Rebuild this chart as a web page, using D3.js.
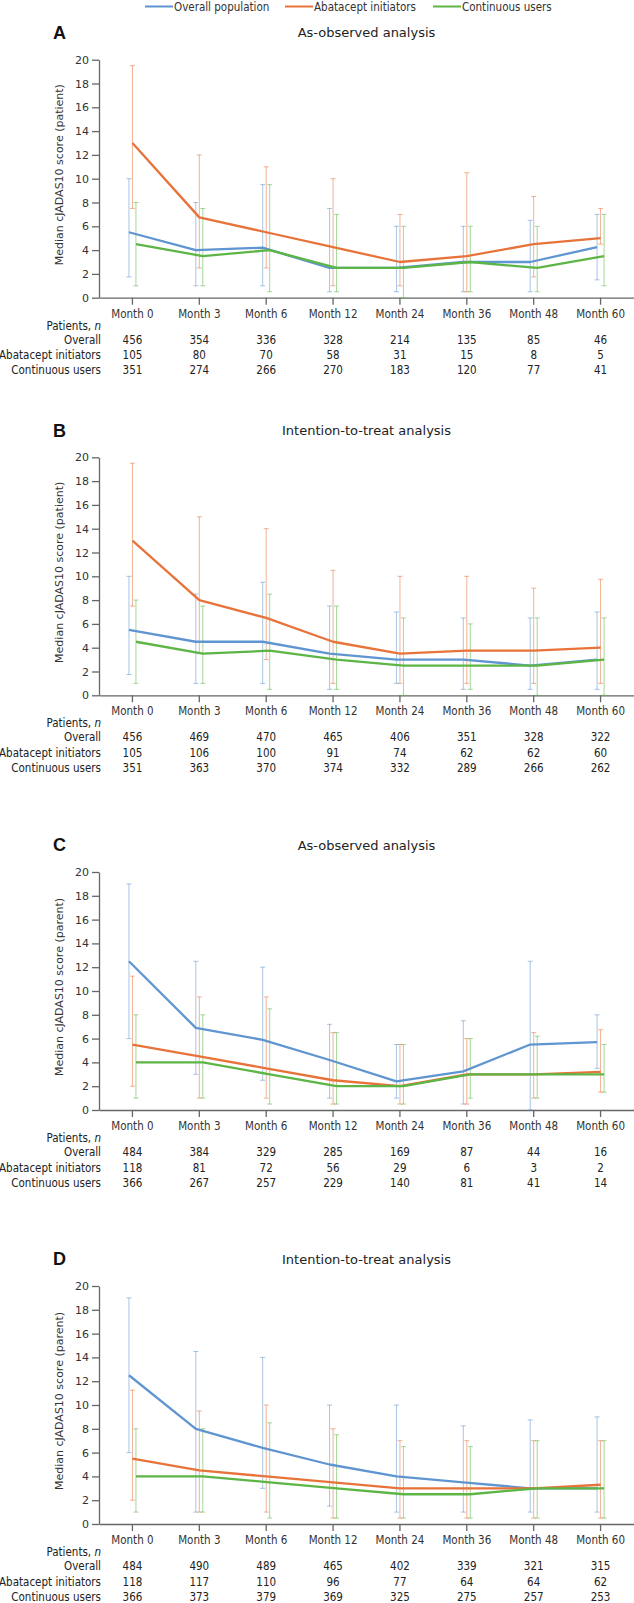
<!DOCTYPE html>
<html><head><meta charset="utf-8">
<script src="https://cdn.jsdelivr.net/npm/d3@7"></script>
<style>
body{margin:0;background:#fff;}
svg{display:block;}
.cond{font-family:"DejaVu Sans Condensed","DejaVu Sans",sans-serif;font-stretch:condensed;}
</style></head><body>
<div id="chart"></div>
<script>
// ---------- data ----------
const months = ["Month 0","Month 3","Month 6","Month 12","Month 24","Month 36","Month 48","Month 60"];
const seriesNames = ["Overall population","Abatacept initiators","Continuous users"];
const rowLabels = ["Overall","Abatacept initiators","Continuous users"];
const yTicks = [0,2,4,6,8,10,12,14,16,18,20];

// Panel A – as-observed (patient)
const A_overall    = [5.5, 4, 4.2, 2.5, 2.5, 3, 3, 4.25];
const A_overallLo  = [1.75, 1, 1, 0.5, 0.5, 0.5, 0.5, 1.5];
const A_overallHi  = [10, 8, 9.5, 7.5, 6, 6, 6.5, 7];
const A_abatacept   = [13, 6.75, 5.5, 4.25, 3, 3.5, 4.5, 5];
const A_abataceptLo = [7.5, 2.5, 2.5, 1, 1, 0.5, 1.75, 4.5];
const A_abataceptHi = [19.5, 12, 11, 10, 7, 10.5, 8.5, 7.5];
const A_continuous   = [4.5, 3.5, 4, 2.5, 2.5, 3, 2.5, 3.5];
const A_continuousLo = [1, 1, 0.5, 0.5, 0, 0.5, 0.5, 1];
const A_continuousHi = [8, 7.5, 9.5, 7, 6, 6, 6, 7];
const A_nOverall    = [456,354,336,328,214,135,85,46];
const A_nAbatacept  = [105,80,70,58,31,15,8,5];
const A_nContinuous = [351,274,266,270,183,120,77,41];

// Panel B – intention-to-treat (patient)
const B_overall    = [5.5, 4.5, 4.5, 3.5, 3, 3, 2.5, 3];
const B_overallLo  = [1.75, 1, 1, 0.5, 1, 0.5, 0.5, 0.5];
const B_overallHi  = [10, 8.5, 9.5, 7.5, 7, 6.5, 6.5, 7];
const B_abatacept   = [13, 8, 6.5, 4.5, 3.5, 3.75, 3.75, 4];
const B_abataceptLo = [7.5, 3.5, 3, 1, 1, 1, 1, 1];
const B_abataceptHi = [19.5, 15, 14, 10.5, 10, 10, 9, 9.75];
const B_continuous   = [4.5, 3.5, 3.75, 3, 2.5, 2.5, 2.5, 3];
const B_continuousLo = [1, 1, 0.5, 0.5, 0, 0.5, 0, 0];
const B_continuousHi = [8, 7.5, 8.5, 7.5, 6.5, 6, 6.5, 6.5];
const B_nOverall    = [456,469,470,465,406,351,328,322];
const B_nAbatacept  = [105,106,100,91,74,62,62,60];
const B_nContinuous = [351,363,370,374,332,289,266,262];

// Panel C – as-observed (parent)
const C_overall    = [12.5, 6.9, 5.9, 4.2, 2.4, 3.25, 5.5, 5.7];
const C_overallLo  = [6, 3, 2.5, 1, 1, 0.5, 0, 3.5];
const C_overallHi  = [19, 12.5, 12, 7.2, 5.5, 7.5, 12.5, 8];
const C_abatacept   = [5.5, 4.5, 3.5, 2.5, 2, 3, 3, 3.2];
const C_abataceptLo = [2, 1, 1, 0.5, 0.5, 0.5, 1, 1.5];
const C_abataceptHi = [11.25, 9.5, 9.5, 6.5, 5.5, 6, 6.5, 6.75];
const C_continuous   = [4, 4, 3, 2, 2, 3, 3, 3];
const C_continuousLo = [1, 1, 0.5, 0.5, 0.5, 1, 1, 1.5];
const C_continuousHi = [8, 8, 8.5, 6.5, 5.5, 6, 6.2, 5.5];
const C_nOverall    = [484,384,329,285,169,87,44,16];
const C_nAbatacept  = [118,81,72,56,29,6,3,2];
const C_nContinuous = [366,267,257,229,140,81,41,14];

// Panel D – intention-to-treat (parent)
const D_overall    = [12.5, 8, 6.4, 5, 4, 3.5, 3, 3];
const D_overallLo  = [6, 1, 3, 1.5, 1, 1, 1, 1];
const D_overallHi  = [19, 14.5, 14, 10, 10, 8.25, 8.75, 9];
const D_abatacept   = [5.5, 4.5, 4, 3.5, 3, 3, 3, 3.3];
const D_abataceptLo = [2, 1, 1, 0.5, 0.5, 0.5, 0.5, 0.5];
const D_abataceptHi = [11.25, 9.5, 10, 8, 7, 7, 7, 7];
const D_continuous   = [4, 4, 3.5, 3, 2.5, 2.5, 3, 3];
const D_continuousLo = [1, 1, 0.5, 0.5, 0.5, 0.5, 0.5, 0.5];
const D_continuousHi = [8, 8, 8.5, 7.5, 6.5, 6.5, 7, 7];
const D_nOverall    = [484,490,489,465,402,339,321,315];
const D_nAbatacept  = [118,117,110,96,77,64,64,62];
const D_nContinuous = [366,373,379,369,325,275,257,253];

// ---------- layout ----------
const W = 634, H = 1603;
const colors = ["#5f95d0", "#e8733a", "#5cb545"];
const offsets = [-3.5, 0, 3.5];
const plotH = 238;

const panels = [
  {letter:"A", title:"As-observed analysis", ylab:"Median cJADAS10 score (patient)", top:59.7,
   med:[A_overall,A_abatacept,A_continuous], lo:[A_overallLo,A_abataceptLo,A_continuousLo], hi:[A_overallHi,A_abataceptHi,A_continuousHi],
   n:[A_nOverall,A_nAbatacept,A_nContinuous]},
  {letter:"B", title:"Intention-to-treat analysis", ylab:"Median cJADAS10 score (patient)", top:457.3,
   med:[B_overall,B_abatacept,B_continuous], lo:[B_overallLo,B_abataceptLo,B_continuousLo], hi:[B_overallHi,B_abataceptHi,B_continuousHi],
   n:[B_nOverall,B_nAbatacept,B_nContinuous]},
  {letter:"C", title:"As-observed analysis", ylab:"Median cJADAS10 score (parent)", top:872,
   med:[C_overall,C_abatacept,C_continuous], lo:[C_overallLo,C_abataceptLo,C_continuousLo], hi:[C_overallHi,C_abataceptHi,C_continuousHi],
   n:[C_nOverall,C_nAbatacept,C_nContinuous]},
  {letter:"D", title:"Intention-to-treat analysis", ylab:"Median cJADAS10 score (parent)", top:1286,
   med:[D_overall,D_abatacept,D_continuous], lo:[D_overallLo,D_abataceptLo,D_continuousLo], hi:[D_overallHi,D_abataceptHi,D_continuousHi],
   n:[D_nOverall,D_nAbatacept,D_nContinuous]}
];

const svg = d3.select("#chart").append("svg").attr("width", W).attr("height", H);

const x = d3.scaleBand().domain(months).range([99, 634]);
const cx = m => x(m) + x.bandwidth() / 2;

// legend
const legendX = [145, 285, 433];
const lg = svg.append("g").attr("class","cond");
seriesNames.forEach((s, i) => {
  lg.append("line").attr("x1", legendX[i]).attr("x2", legendX[i] + 28).attr("y1", 6.5).attr("y2", 6.5)
    .attr("stroke", colors[i]).attr("stroke-width", 2);
  lg.append("text").attr("x", legendX[i] + 29).attr("y", 6.5).attr("dy", "0.35em")
    .attr("font-size", 11.5).attr("fill", "#333").text(s);
});

panels.forEach(p => {
  const y0 = p.top + plotH;
  const y = d3.scaleLinear().domain([0, 20]).range([y0, p.top]);
  const g = svg.append("g");

  // letter + title
  g.append("text").attr("x", 53).attr("y", p.top - 27).attr("dy", "0.36em")
    .attr("font-family", "Liberation Sans, Arial, sans-serif").attr("font-weight", "bold")
    .attr("font-size", 18).attr("fill", "#111").text(p.letter);
  g.append("text").attr("x", (99 + 634) / 2).attr("y", p.top - 27).attr("dy", "0.35em")
    .attr("text-anchor", "middle").attr("font-family", "DejaVu Sans, sans-serif")
    .attr("font-size", 13).attr("fill", "#222").text(p.title);

  // y label
  g.append("text").attr("transform", `translate(59,${(p.top + y0) / 2 - 4}) rotate(-90)`)
    .attr("dy", "0.35em").attr("text-anchor", "middle")
    .attr("font-family", "DejaVu Sans, sans-serif").attr("font-size", 11).attr("fill", "#333").text(p.ylab);

  // axes
  const ya = g.append("g").attr("transform", "translate(99,0)")
    .call(d3.axisLeft(y).tickValues(yTicks).tickSize(7).tickSizeOuter(0).tickPadding(3));
  ya.selectAll("text").attr("font-family", "DejaVu Sans, sans-serif").attr("font-size", 11).attr("fill", "#333");
  ya.selectAll("line,path").attr("stroke", "#666").attr("stroke-width", 1.3);

  const xa = g.append("g").attr("transform", `translate(0,${y0})`)
    .call(d3.axisBottom(x).tickSize(7).tickSizeOuter(0).tickPadding(5));
  xa.selectAll("text").attr("class", "cond").attr("font-size", 11.5).attr("fill", "#333");
  xa.selectAll("line,path").attr("stroke", "#666").attr("stroke-width", 1.3);

  // error bars
  [0, 1, 2].forEach(s => {
    const eg = g.append("g").attr("stroke", colors[s]).attr("stroke-opacity", 0.55).attr("stroke-width", 1);
    months.forEach((m, i) => {
      const xx = cx(m) + offsets[s];
      const yl = y(p.lo[s][i]), yh = y(p.hi[s][i]);
      eg.append("line").attr("x1", xx).attr("x2", xx).attr("y1", yl).attr("y2", yh);
      eg.append("line").attr("x1", xx - 2.5).attr("x2", xx + 2.5).attr("y1", yl).attr("y2", yl);
      eg.append("line").attr("x1", xx - 2.5).attr("x2", xx + 2.5).attr("y1", yh).attr("y2", yh);
    });
  });

  // median lines
  [0, 1, 2].forEach(s => {
    const line = d3.line().x((d, i) => cx(months[i]) + offsets[s]).y(d => y(d));
    g.append("path").datum(p.med[s]).attr("d", line).attr("fill", "none")
      .attr("stroke", colors[s]).attr("stroke-width", 2.3).attr("stroke-linejoin", "round");
  });

  // patients table
  const tg = g.append("g").attr("class", "cond").attr("font-size", 11.5).attr("fill", "#222");
  const pt = tg.append("text").attr("x", 101).attr("y", y0 + 28).attr("dy", "0.35em").attr("text-anchor", "end");
  pt.append("tspan").text("Patients, ");
  pt.append("tspan").attr("font-style", "italic").text("n");
  const rowY = [42, 57.5, 72.5];
  rowLabels.forEach((r, ri) => {
    tg.append("text").attr("x", 101).attr("y", y0 + rowY[ri]).attr("dy", "0.35em")
      .attr("text-anchor", "end").text(r);
    months.forEach((m, i) => {
      tg.append("text").attr("x", cx(m)).attr("y", y0 + rowY[ri]).attr("dy", "0.35em")
        .attr("text-anchor", "middle").text(p.n[ri][i]);
    });
  });
});
</script>
</body></html>
